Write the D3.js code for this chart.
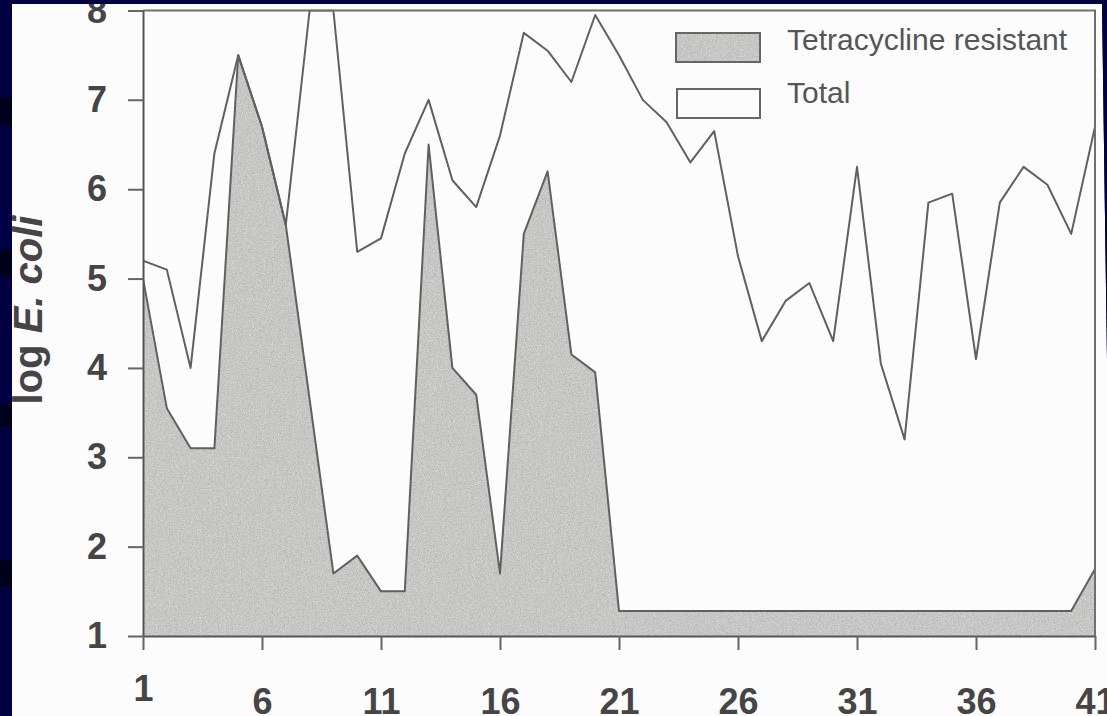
<!DOCTYPE html>
<html>
<head>
<meta charset="utf-8">
<script src="https://cdn.jsdelivr.net/npm/d3@7"></script>
<style>
  html, body { margin: 0; padding: 0; background: #000042; }
  svg { display: block; }
</style>
</head>
<body>
<svg id="chart" width="1107" height="716"></svg>
<script>
// ---- data ----
const days = [1,2,3,4,5,6,7,8,9,10,11,12,13,14,15,16,17,18,19,20,21,22,23,24,25,26,27,28,29,30,31,32,33,34,35,36,37,38,39,40,41];
const total = [5.2,5.1,4.0,6.4,7.5,6.7,5.6,8.0,8.0,5.3,5.45,6.4,7.0,6.1,5.8,6.6,7.75,7.55,7.2,7.95,7.5,7.0,6.75,6.3,6.65,5.25,4.3,4.75,4.95,4.3,6.25,4.05,3.2,5.85,5.95,4.1,5.85,6.25,6.05,5.5,6.7];
const resistant = [5.0,3.55,3.1,3.1,7.5,6.7,5.6,3.65,1.7,1.9,1.5,1.5,6.5,4.0,3.7,1.7,5.5,6.2,4.15,3.95,1.28,1.28,1.28,1.28,1.28,1.28,1.28,1.28,1.28,1.28,1.28,1.28,1.28,1.28,1.28,1.28,1.28,1.28,1.28,1.28,1.75];
const xTickLabels = [1,6,11,16,21,26,31,36,41];
const yTickLabels = [1,2,3,4,5,6,7,8];
const seriesNames = ["Tetracycline resistant", "Total"];

// ---- drawing ----
const W = 1107, H = 716;
const svg = d3.select("#chart");
const defs = svg.append("defs");

// speckled gray fill
const f = defs.append("filter").attr("id","grain")
  .attr("filterUnits","userSpaceOnUse").attr("x",0).attr("y",0).attr("width",W).attr("height",H)
  .attr("color-interpolation-filters","sRGB");
f.append("feTurbulence").attr("type","fractalNoise").attr("baseFrequency",0.75).attr("numOctaves",3).attr("seed",7);
f.append("feColorMatrix").attr("type","matrix")
  .attr("values","0.33 0.33 0.33 0 0  0.33 0.33 0.33 0 0  0.33 0.33 0.33 0 0  0 0 0 0 1");
const ct = f.append("feComponentTransfer");
ct.append("feFuncR").attr("type","linear").attr("slope",0.45).attr("intercept",0.555);
ct.append("feFuncG").attr("type","linear").attr("slope",0.45).attr("intercept",0.56);
ct.append("feFuncB").attr("type","linear").attr("slope",0.45).attr("intercept",0.55);
f.append("feComposite").attr("in2","SourceGraphic").attr("operator","in");

// panel clip (slightly skewed scan)
const panelPts = [[12,4],[1102,4],[1112,716],[12,716]];
defs.append("clipPath").attr("id","panelClip")
  .append("polygon").attr("points", panelPts.map(p => p.join(",")).join(" "));

// background
svg.append("rect").attr("width",W).attr("height",H).attr("fill","#000042");
[[97,125],[250,277],[403,427],[560,587]].forEach(([a,b]) => {
  svg.append("rect").attr("x",0).attr("y",a).attr("width",12).attr("height",b-a).attr("fill","#00001c");
});

const root = svg.append("g").attr("clip-path","url(#panelClip)");
root.append("polygon").attr("points", panelPts.map(p => p.join(",")).join(" ")).attr("fill","#fcfcfc");

const x = d3.scaleLinear().domain([1,41]).range([143,1095]);
const y = d3.scaleLinear().domain([1,8]).range([636,10.5]);

const ink = "#4a4a4a";
const lineInk = "#606060";

defs.append("clipPath").attr("id","plotClip")
  .append("rect").attr("x",x(1)).attr("y",y(8)-1).attr("width",x(41)-x(1)).attr("height",y(1)-y(8)+1);

const plot = root.append("g").attr("clip-path","url(#plotClip)");

// resistant area
const area = d3.area().x((d,i) => x(days[i])).y0(y(1)).y1(d => y(d));
plot.append("path").datum(resistant).attr("d", area).attr("fill","#c8c8c8").attr("filter","url(#grain)");
const rLine = d3.line().x((d,i) => x(days[i])).y(d => y(d));
plot.append("path").datum(resistant).attr("d", rLine).attr("fill","none")
  .attr("stroke",lineInk).attr("stroke-width",2).attr("stroke-linejoin","round");

// total line
plot.append("path").datum(total).attr("d", rLine).attr("fill","none")
  .attr("stroke",lineInk).attr("stroke-width",2).attr("stroke-linejoin","round");

// frame (top + right)
root.append("path")
  .attr("d", `M${x(1)},${y(8)}H${x(41)}V${y(1)}`)
  .attr("fill","none").attr("stroke","#707070").attr("stroke-width",2);

// axes
const yAxis = root.append("g").attr("transform",`translate(${x(1)},0)`)
  .call(d3.axisLeft(y).tickValues(yTickLabels).tickSize(15).tickSizeOuter(0).tickPadding(21).tickFormat(d3.format("d")));
const xAxis = root.append("g").attr("transform",`translate(0,${y(1)})`)
  .call(d3.axisBottom(x).tickValues(xTickLabels).tickSize(14).tickSizeOuter(0).tickPadding(38).tickFormat(d3.format("d")));
[yAxis, xAxis].forEach(a => {
  a.select(".domain").attr("stroke","#555").attr("stroke-width",2);
  a.selectAll(".tick line").attr("stroke","#666").attr("stroke-width",2);
  a.selectAll(".tick text").attr("fill","#454545")
    .style("font-family","'Liberation Sans', Arial, sans-serif").style("font-weight","bold").style("font-size","36px");
});
xAxis.selectAll(".tick text").filter(d => d === xTickLabels[0]).attr("dy","0.35em");

// y title
const title = root.append("text").attr("transform","translate(42,310) rotate(-90)")
  .attr("text-anchor","middle").attr("fill","#454545")
  .style("font-family","'Liberation Sans', Arial, sans-serif").style("font-weight","bold").style("font-size","40px");
title.append("tspan").text("log ");
title.append("tspan").style("font-style","italic").text("E. coli");

// legend
const lg = root.append("g");
lg.append("rect").attr("x",676).attr("y",33).attr("width",84).attr("height",29)
  .attr("fill","#c8c8c8").attr("filter","url(#grain)");
lg.append("rect").attr("x",676).attr("y",33).attr("width",84).attr("height",29)
  .attr("fill","none").attr("stroke","#666").attr("stroke-width",2);
lg.append("rect").attr("x",677).attr("y",89).attr("width",83).attr("height",29)
  .attr("fill","#fcfcfc").attr("stroke","#666").attr("stroke-width",2);
lg.selectAll("text.lab").data(seriesNames).join("text").attr("class","lab")
  .attr("x",787).attr("y",(d,i) => 50 + i*53)
  .attr("fill","#555")
  .style("font-family","'Liberation Sans', Arial, sans-serif").style("font-size","30px")
  .text(d => d);
</script>
</body>
</html>
